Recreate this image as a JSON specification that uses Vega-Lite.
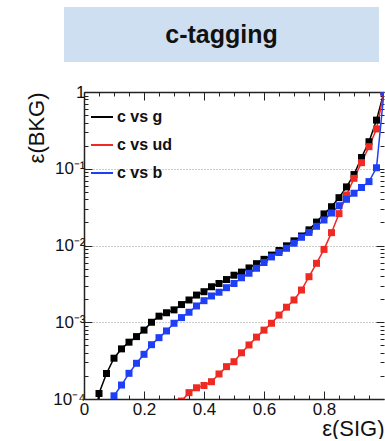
{
  "$schema": "https://vega.github.io/schema/vega-lite/v6.json",
  "padding": {"left": 25, "top": 7, "right": 0, "bottom": 0},
  "bounds": "flush",
  "spacing": 30,
  "config": {
    "font": "Liberation Sans",
    "view": {"stroke": null},
    "axis": {"domainColor": "#222", "domainWidth": 1.5, "tickColor": "#222", "tickWidth": 1, "labelFontSize": 17, "labelColor": "#111", "titleFontSize": 22, "titleFontWeight": "normal", "titleColor": "#111", "grid": false, "labelFlush": false, "labelOverlap": false}
  },
  "vconcat": [
    {
      "width": 315,
      "height": 55,
      "view": {"fill": "#cfdff2", "stroke": null},
      "data": {"values": [{"label": "c-tagging"}]},
      "mark": {"type": "text", "fontSize": 25, "fontWeight": "bold", "color": "#111"},
      "encoding": {"text": {"field": "label", "type": "nominal"}}
    },
    {
      "bounds": "flush",
      "spacing": 19,
      "hconcat": [
        {
          "width": 1,
          "height": 1,
          "data": {"values": []},
          "mark": {"type": "point", "opacity": 0}
        },
        {
          "width": 300,
          "height": 307,
          "data": {"values": [
            {"pair": "c vs g", "eff_sig": 0.025, "eff_bkg": 0.00003},
            {"pair": "c vs g", "eff_sig": 0.05, "eff_bkg": 0.000118},
            {"pair": "c vs g", "eff_sig": 0.075, "eff_bkg": 0.000215},
            {"pair": "c vs g", "eff_sig": 0.1, "eff_bkg": 0.00034},
            {"pair": "c vs g", "eff_sig": 0.125, "eff_bkg": 0.00045},
            {"pair": "c vs g", "eff_sig": 0.15, "eff_bkg": 0.00055},
            {"pair": "c vs g", "eff_sig": 0.175, "eff_bkg": 0.00065},
            {"pair": "c vs g", "eff_sig": 0.2, "eff_bkg": 0.00079},
            {"pair": "c vs g", "eff_sig": 0.225, "eff_bkg": 0.001},
            {"pair": "c vs g", "eff_sig": 0.25, "eff_bkg": 0.0012},
            {"pair": "c vs g", "eff_sig": 0.275, "eff_bkg": 0.00133},
            {"pair": "c vs g", "eff_sig": 0.3, "eff_bkg": 0.00145},
            {"pair": "c vs g", "eff_sig": 0.325, "eff_bkg": 0.0017},
            {"pair": "c vs g", "eff_sig": 0.35, "eff_bkg": 0.00195},
            {"pair": "c vs g", "eff_sig": 0.375, "eff_bkg": 0.00226},
            {"pair": "c vs g", "eff_sig": 0.4, "eff_bkg": 0.0025},
            {"pair": "c vs g", "eff_sig": 0.425, "eff_bkg": 0.0029},
            {"pair": "c vs g", "eff_sig": 0.45, "eff_bkg": 0.0032},
            {"pair": "c vs g", "eff_sig": 0.475, "eff_bkg": 0.0036},
            {"pair": "c vs g", "eff_sig": 0.5, "eff_bkg": 0.0041},
            {"pair": "c vs g", "eff_sig": 0.525, "eff_bkg": 0.0045},
            {"pair": "c vs g", "eff_sig": 0.55, "eff_bkg": 0.0051},
            {"pair": "c vs g", "eff_sig": 0.575, "eff_bkg": 0.0058},
            {"pair": "c vs g", "eff_sig": 0.6, "eff_bkg": 0.0066},
            {"pair": "c vs g", "eff_sig": 0.625, "eff_bkg": 0.0075},
            {"pair": "c vs g", "eff_sig": 0.65, "eff_bkg": 0.0086},
            {"pair": "c vs g", "eff_sig": 0.675, "eff_bkg": 0.0099},
            {"pair": "c vs g", "eff_sig": 0.7, "eff_bkg": 0.0115},
            {"pair": "c vs g", "eff_sig": 0.725, "eff_bkg": 0.0133},
            {"pair": "c vs g", "eff_sig": 0.75, "eff_bkg": 0.016},
            {"pair": "c vs g", "eff_sig": 0.775, "eff_bkg": 0.0202},
            {"pair": "c vs g", "eff_sig": 0.8, "eff_bkg": 0.0258},
            {"pair": "c vs g", "eff_sig": 0.825, "eff_bkg": 0.032},
            {"pair": "c vs g", "eff_sig": 0.85, "eff_bkg": 0.042},
            {"pair": "c vs g", "eff_sig": 0.875, "eff_bkg": 0.058},
            {"pair": "c vs g", "eff_sig": 0.9, "eff_bkg": 0.084},
            {"pair": "c vs g", "eff_sig": 0.925, "eff_bkg": 0.14},
            {"pair": "c vs g", "eff_sig": 0.95, "eff_bkg": 0.225},
            {"pair": "c vs g", "eff_sig": 0.975, "eff_bkg": 0.43},
            {"pair": "c vs g", "eff_sig": 1.0, "eff_bkg": 1.0},
            {"pair": "c vs ud", "eff_sig": 0.325, "eff_bkg": 0.000094},
            {"pair": "c vs ud", "eff_sig": 0.35, "eff_bkg": 0.000121},
            {"pair": "c vs ud", "eff_sig": 0.375, "eff_bkg": 0.00014},
            {"pair": "c vs ud", "eff_sig": 0.4, "eff_bkg": 0.00015},
            {"pair": "c vs ud", "eff_sig": 0.425, "eff_bkg": 0.000168},
            {"pair": "c vs ud", "eff_sig": 0.45, "eff_bkg": 0.000212},
            {"pair": "c vs ud", "eff_sig": 0.475, "eff_bkg": 0.000264},
            {"pair": "c vs ud", "eff_sig": 0.5, "eff_bkg": 0.000306},
            {"pair": "c vs ud", "eff_sig": 0.525, "eff_bkg": 0.0004},
            {"pair": "c vs ud", "eff_sig": 0.55, "eff_bkg": 0.000506},
            {"pair": "c vs ud", "eff_sig": 0.575, "eff_bkg": 0.00064},
            {"pair": "c vs ud", "eff_sig": 0.6, "eff_bkg": 0.00079},
            {"pair": "c vs ud", "eff_sig": 0.625, "eff_bkg": 0.00097},
            {"pair": "c vs ud", "eff_sig": 0.65, "eff_bkg": 0.00124},
            {"pair": "c vs ud", "eff_sig": 0.675, "eff_bkg": 0.00157},
            {"pair": "c vs ud", "eff_sig": 0.7, "eff_bkg": 0.00195},
            {"pair": "c vs ud", "eff_sig": 0.725, "eff_bkg": 0.00263},
            {"pair": "c vs ud", "eff_sig": 0.75, "eff_bkg": 0.00392},
            {"pair": "c vs ud", "eff_sig": 0.775, "eff_bkg": 0.00586},
            {"pair": "c vs ud", "eff_sig": 0.8, "eff_bkg": 0.0089},
            {"pair": "c vs ud", "eff_sig": 0.825, "eff_bkg": 0.0147},
            {"pair": "c vs ud", "eff_sig": 0.85, "eff_bkg": 0.026},
            {"pair": "c vs ud", "eff_sig": 0.875, "eff_bkg": 0.0455},
            {"pair": "c vs ud", "eff_sig": 0.9, "eff_bkg": 0.075},
            {"pair": "c vs ud", "eff_sig": 0.925, "eff_bkg": 0.12},
            {"pair": "c vs ud", "eff_sig": 0.95, "eff_bkg": 0.194},
            {"pair": "c vs ud", "eff_sig": 0.975, "eff_bkg": 0.33},
            {"pair": "c vs ud", "eff_sig": 1.0, "eff_bkg": 1.0},
            {"pair": "c vs b", "eff_sig": 0.075, "eff_bkg": 0.00004},
            {"pair": "c vs b", "eff_sig": 0.1, "eff_bkg": 0.00011},
            {"pair": "c vs b", "eff_sig": 0.125, "eff_bkg": 0.000152},
            {"pair": "c vs b", "eff_sig": 0.15, "eff_bkg": 0.000216},
            {"pair": "c vs b", "eff_sig": 0.175, "eff_bkg": 0.000292},
            {"pair": "c vs b", "eff_sig": 0.2, "eff_bkg": 0.000382},
            {"pair": "c vs b", "eff_sig": 0.225, "eff_bkg": 0.00051},
            {"pair": "c vs b", "eff_sig": 0.25, "eff_bkg": 0.00063},
            {"pair": "c vs b", "eff_sig": 0.275, "eff_bkg": 0.00077},
            {"pair": "c vs b", "eff_sig": 0.3, "eff_bkg": 0.00097},
            {"pair": "c vs b", "eff_sig": 0.325, "eff_bkg": 0.00115},
            {"pair": "c vs b", "eff_sig": 0.35, "eff_bkg": 0.00135},
            {"pair": "c vs b", "eff_sig": 0.375, "eff_bkg": 0.00163},
            {"pair": "c vs b", "eff_sig": 0.4, "eff_bkg": 0.00191},
            {"pair": "c vs b", "eff_sig": 0.425, "eff_bkg": 0.0022},
            {"pair": "c vs b", "eff_sig": 0.45, "eff_bkg": 0.00246},
            {"pair": "c vs b", "eff_sig": 0.475, "eff_bkg": 0.00282},
            {"pair": "c vs b", "eff_sig": 0.5, "eff_bkg": 0.0032},
            {"pair": "c vs b", "eff_sig": 0.525, "eff_bkg": 0.0038},
            {"pair": "c vs b", "eff_sig": 0.55, "eff_bkg": 0.00435},
            {"pair": "c vs b", "eff_sig": 0.575, "eff_bkg": 0.00505},
            {"pair": "c vs b", "eff_sig": 0.6, "eff_bkg": 0.006},
            {"pair": "c vs b", "eff_sig": 0.625, "eff_bkg": 0.0071},
            {"pair": "c vs b", "eff_sig": 0.65, "eff_bkg": 0.0081},
            {"pair": "c vs b", "eff_sig": 0.675, "eff_bkg": 0.0092},
            {"pair": "c vs b", "eff_sig": 0.7, "eff_bkg": 0.0107},
            {"pair": "c vs b", "eff_sig": 0.725, "eff_bkg": 0.0128},
            {"pair": "c vs b", "eff_sig": 0.75, "eff_bkg": 0.0148},
            {"pair": "c vs b", "eff_sig": 0.775, "eff_bkg": 0.0178},
            {"pair": "c vs b", "eff_sig": 0.8, "eff_bkg": 0.0215},
            {"pair": "c vs b", "eff_sig": 0.825, "eff_bkg": 0.0265},
            {"pair": "c vs b", "eff_sig": 0.85, "eff_bkg": 0.033},
            {"pair": "c vs b", "eff_sig": 0.875, "eff_bkg": 0.04},
            {"pair": "c vs b", "eff_sig": 0.9, "eff_bkg": 0.048},
            {"pair": "c vs b", "eff_sig": 0.925, "eff_bkg": 0.057},
            {"pair": "c vs b", "eff_sig": 0.95, "eff_bkg": 0.068},
            {"pair": "c vs b", "eff_sig": 0.975, "eff_bkg": 0.103},
            {"pair": "c vs b", "eff_sig": 1.0, "eff_bkg": 1.0}
          ]},
          "layer": [
            {
              "mark": {"type": "line", "clip": true, "strokeWidth": 1.5},
              "encoding": {
                "x": {"field": "eff_sig", "type": "quantitative", "scale": {"domain": [0, 1], "nice": false, "zero": false},
                  "axis": {"orient": "bottom", "values": [0, 0.2, 0.4, 0.6, 0.8], "format": "~g", "tickSize": -8, "labelPadding": 10, "title": "ε(SIG)", "titleAnchor": "end", "titlePadding": 1}},
                "y": {"field": "eff_bkg", "type": "quantitative", "scale": {"type": "log", "domain": [0.0001, 1], "nice": false},
                  "axis": {"orient": "left", "values": [0.0001, 0.001, 0.01, 0.1, 1], "tickSize": -8, "labelPadding": 7,
                    "labelExpr": "datum.value >= 1 ? '1' : '10⁻' + ['', '¹', '²', '³', '⁴'][round(-log(datum.value) / LN10)]",
                    "grid": true, "gridDash": [1, 2], "gridColor": "#999", "gridWidth": 1,
                    "title": "ε(BKG)", "titleAnchor": "end", "titlePadding": 4}},
                "color": {"field": "pair", "type": "nominal",
                  "scale": {"domain": ["c vs g", "c vs ud", "c vs b"], "range": ["#000000", "#ee2a22", "#1f3ff5"]},
                  "legend": {"orient": "none", "legendX": 26, "legendY": 98, "title": null, "symbolType": "stroke", "symbolSize": 484, "symbolStrokeWidth": 2, "labelFontSize": 16, "labelFontWeight": "bold", "labelColor": "#111", "rowPadding": 8, "labelOffset": 3}},
                "order": {"field": "eff_sig", "type": "quantitative"}
              }
            },
            {
              "mark": {"type": "point", "shape": "square", "size": 49, "filled": true, "opacity": 1, "clip": true},
              "encoding": {
                "x": {"field": "eff_sig", "type": "quantitative", "scale": {"domain": [0, 1], "nice": false, "zero": false},
                  "axis": {"orient": "bottom", "values": [0.05, 0.1, 0.15, 0.25, 0.3, 0.35, 0.45, 0.5, 0.55, 0.65, 0.7, 0.75, 0.85, 0.9, 0.95], "tickSize": -4, "labels": false, "domain": false, "title": null}},
                "y": {"field": "eff_bkg", "type": "quantitative", "scale": {"type": "log", "domain": [0.0001, 1], "nice": false},
                  "axis": {"orient": "left", "values": [0.0002, 0.0003, 0.0004, 0.0005, 0.0006, 0.0007, 0.0008, 0.0009, 0.002, 0.003, 0.004, 0.005, 0.006, 0.007, 0.008, 0.009, 0.02, 0.03, 0.04, 0.05, 0.06, 0.07, 0.08, 0.09, 0.2, 0.3, 0.4, 0.5, 0.6, 0.7, 0.8, 0.9], "tickSize": -4, "labels": false, "domain": false, "title": null}},
                "color": {"field": "pair", "type": "nominal",
                  "scale": {"domain": ["c vs g", "c vs ud", "c vs b"], "range": ["#000000", "#ee2a22", "#1f3ff5"]},
                  "legend": {"orient": "none", "legendX": 26, "legendY": 98, "title": null, "symbolType": "stroke", "symbolSize": 484, "symbolStrokeWidth": 2, "labelFontSize": 16, "labelFontWeight": "bold", "labelColor": "#111", "rowPadding": 8, "labelOffset": 3}}
              }
            },
            {
              "mark": {"type": "point", "opacity": 0, "clip": true},
              "encoding": {
                "x": {"field": "eff_sig", "type": "quantitative", "scale": {"domain": [0, 1], "nice": false, "zero": false},
                  "axis": {"orient": "top", "values": [0, 0.2, 0.4, 0.6, 0.8], "tickSize": -8, "labels": false, "domain": true, "title": null}},
                "y": {"field": "eff_bkg", "type": "quantitative", "scale": {"type": "log", "domain": [0.0001, 1], "nice": false},
                  "axis": {"orient": "right", "values": [0.0001, 0.001, 0.01, 0.1, 1], "tickSize": -8, "labels": false, "domain": false, "title": null}}
              }
            },
            {
              "mark": {"type": "point", "opacity": 0, "clip": true},
              "encoding": {
                "x": {"field": "eff_sig", "type": "quantitative", "scale": {"domain": [0, 1], "nice": false, "zero": false},
                  "axis": {"orient": "top", "values": [0.05, 0.1, 0.15, 0.25, 0.3, 0.35, 0.45, 0.5, 0.55, 0.65, 0.7, 0.75, 0.85, 0.9, 0.95], "tickSize": -4, "labels": false, "domain": false, "title": null}},
                "y": {"field": "eff_bkg", "type": "quantitative", "scale": {"type": "log", "domain": [0.0001, 1], "nice": false},
                  "axis": {"orient": "right", "values": [0.0002, 0.0003, 0.0004, 0.0005, 0.0006, 0.0007, 0.0008, 0.0009, 0.002, 0.003, 0.004, 0.005, 0.006, 0.007, 0.008, 0.009, 0.02, 0.03, 0.04, 0.05, 0.06, 0.07, 0.08, 0.09, 0.2, 0.3, 0.4, 0.5, 0.6, 0.7, 0.8, 0.9], "tickSize": -4, "labels": false, "domain": false, "title": null}}
              }
            }
          ],
          "resolve": {"axis": {"x": "independent", "y": "independent"}}
        }
      ]
    }
  ]
}
